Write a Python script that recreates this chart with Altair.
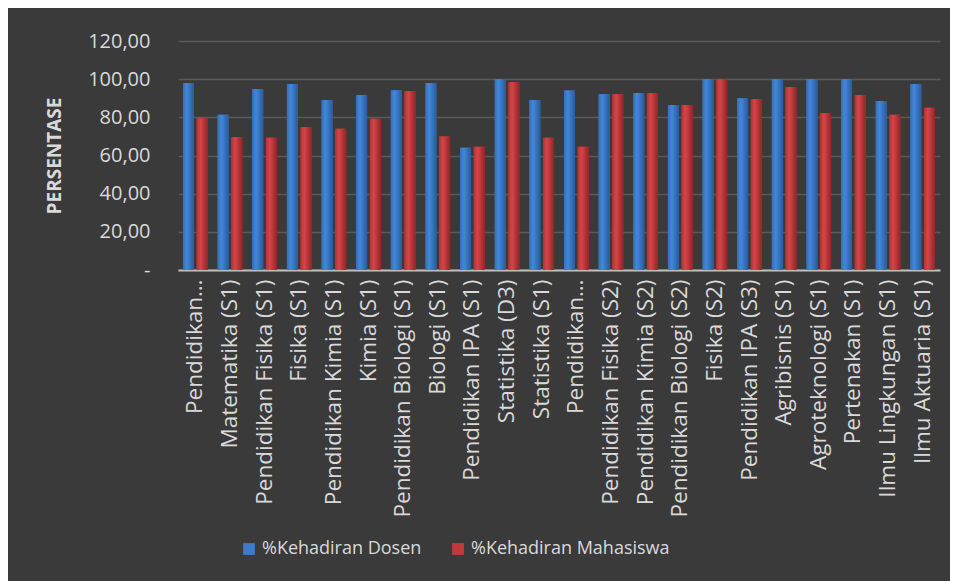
import altair as alt
import pandas as pd

labels = [
    "Pendidikan…", "Matematika (S1)", "Pendidikan Fisika (S1)", "Fisika (S1)",
    "Pendidikan Kimia (S1)", "Kimia (S1)", "Pendidikan Biologi (S1)", "Biologi (S1)",
    "Pendidikan IPA (S1)", "Statistika (D3)", "Statistika (S1)", "Pendidikan…",
    "Pendidikan Fisika (S2)", "Pendidikan Kimia (S2)", "Pendidikan Biologi (S2)",
    "Fisika (S2)", "Pendidikan IPA (S3)", "Agribisnis (S1)", "Agroteknologi (S1)",
    "Pertenakan (S1)", "Ilmu Lingkungan (S1)", "Ilmu Aktuaria (S1)",
]
dosen = [98.0, 81.3, 94.9, 97.5, 89.1, 91.7, 94.2, 98.0, 64.1, 100.0, 89.1,
         94.0, 92.1, 92.8, 86.5, 100.0, 90.0, 100.0, 100.0, 100.0, 88.6, 97.5]
mahasiswa = [79.5, 69.6, 69.3, 75.0, 74.0, 79.2, 93.8, 70.0, 64.6, 98.5, 69.3,
             64.6, 92.1, 92.8, 86.5, 100.0, 89.5, 95.9, 82.3, 91.7, 81.3, 85.0]
series = ["%Kehadiran Dosen", "%Kehadiran Mahasiswa"]
y_ticks = [0, 20, 40, 60, 80, 100, 120]

rows = []
for i, lab in enumerate(labels):
    rows.append({"idx": i, "series": series[0], "value": dosen[i]})
    rows.append({"idx": i, "series": series[1], "value": mahasiswa[i]})
df = pd.DataFrame(rows)

label_expr = "[" + ",".join("'" + l + "'" for l in labels) + "][datum.value]"

grad_blue = {"gradient": "linear", "x1": 0, "y1": 0, "x2": 1, "y2": 0,
             "stops": [{"offset": 0, "color": "#3470bd"},
                       {"offset": 0.35, "color": "#4387d8"},
                       {"offset": 1, "color": "#2a5a9e"}]}
grad_red = {"gradient": "linear", "x1": 0, "y1": 0, "x2": 1, "y2": 0,
            "stops": [{"offset": 0, "color": "#b83135"},
                      {"offset": 0.35, "color": "#d34648"},
                      {"offset": 1, "color": "#952326"}]}

x_enc = alt.X("idx:O",
              scale=alt.Scale(paddingInner=0.29, paddingOuter=0.145),
              axis=alt.Axis(labelExpr=label_expr, labelAngle=-90, title=None,
                            labelFontSize=22.5, labelColor="#d9d9d9", labelPadding=9,
                            labelLimit=400, ticks=False, domainColor="#bfbfbf",
                            domainWidth=2, labelFont="Open Sans"))
y_enc = alt.Y("value:Q",
              scale=alt.Scale(domain=[0, 120], nice=False),
              axis=alt.Axis(values=y_ticks, title="PERSENTASE", domain=False, ticks=False,
                            tickSize=0,
                            labelExpr="datum.value == 0 ? '-\u00a0\u00a0' : replace(format(datum.value, '.2f'), '.', ',')",
                            labelFontSize=20, labelColor="#d9d9d9", labelPadding=28,
                            labelFont="Open Sans",
                            titleFontSize=19, titleFontWeight="bold", titleColor="#d9d9d9",
                            titleFont="Open Sans", titlePadding=23,
                            gridColor="#5a5a5a", gridWidth=1.5))
xo = alt.XOffset("series:N", scale=alt.Scale(domain=series, paddingInner=0.2))

base = alt.Chart(df)
legend_bars = base.mark_bar().encode(
    x=x_enc, y=y_enc, xOffset=xo,
    color=alt.Color("series:N",
                    scale=alt.Scale(domain=series, range=["#3b7bcb", "#c3383b"]),
                    legend=alt.Legend(title=None, orient="none", direction="horizontal",
                                      legendX=62, legendY=499, symbolType="square",
                                      symbolSize=140, symbolStrokeWidth=1,
                                      labelFontSize=18, labelColor="#d9d9d9",
                                      labelFont="Open Sans", labelOffset=4,
                                      labelLimit=400, columnPadding=27, padding=0)),
)
blue_bars = base.transform_filter(alt.datum.series == series[0]).mark_bar(fill=grad_blue).encode(
    x=x_enc, y=y_enc, xOffset=xo,
)
red_bars = base.transform_filter(alt.datum.series == series[1]).mark_bar(fill=grad_red).encode(
    x=x_enc, y=y_enc, xOffset=xo,
)

chart = alt.layer(legend_bars, blue_bars, red_bars).properties(
    width=762, height=229,
    autosize=alt.AutoSizeParams(type="none"),
    padding={"left": 170, "top": 33, "right": 10, "bottom": 311},
    background="#3a3a3a",
).configure_view(
    stroke=None,
)

chart.save("out.html", embed_options={"renderer": "svg", "actions": False})
